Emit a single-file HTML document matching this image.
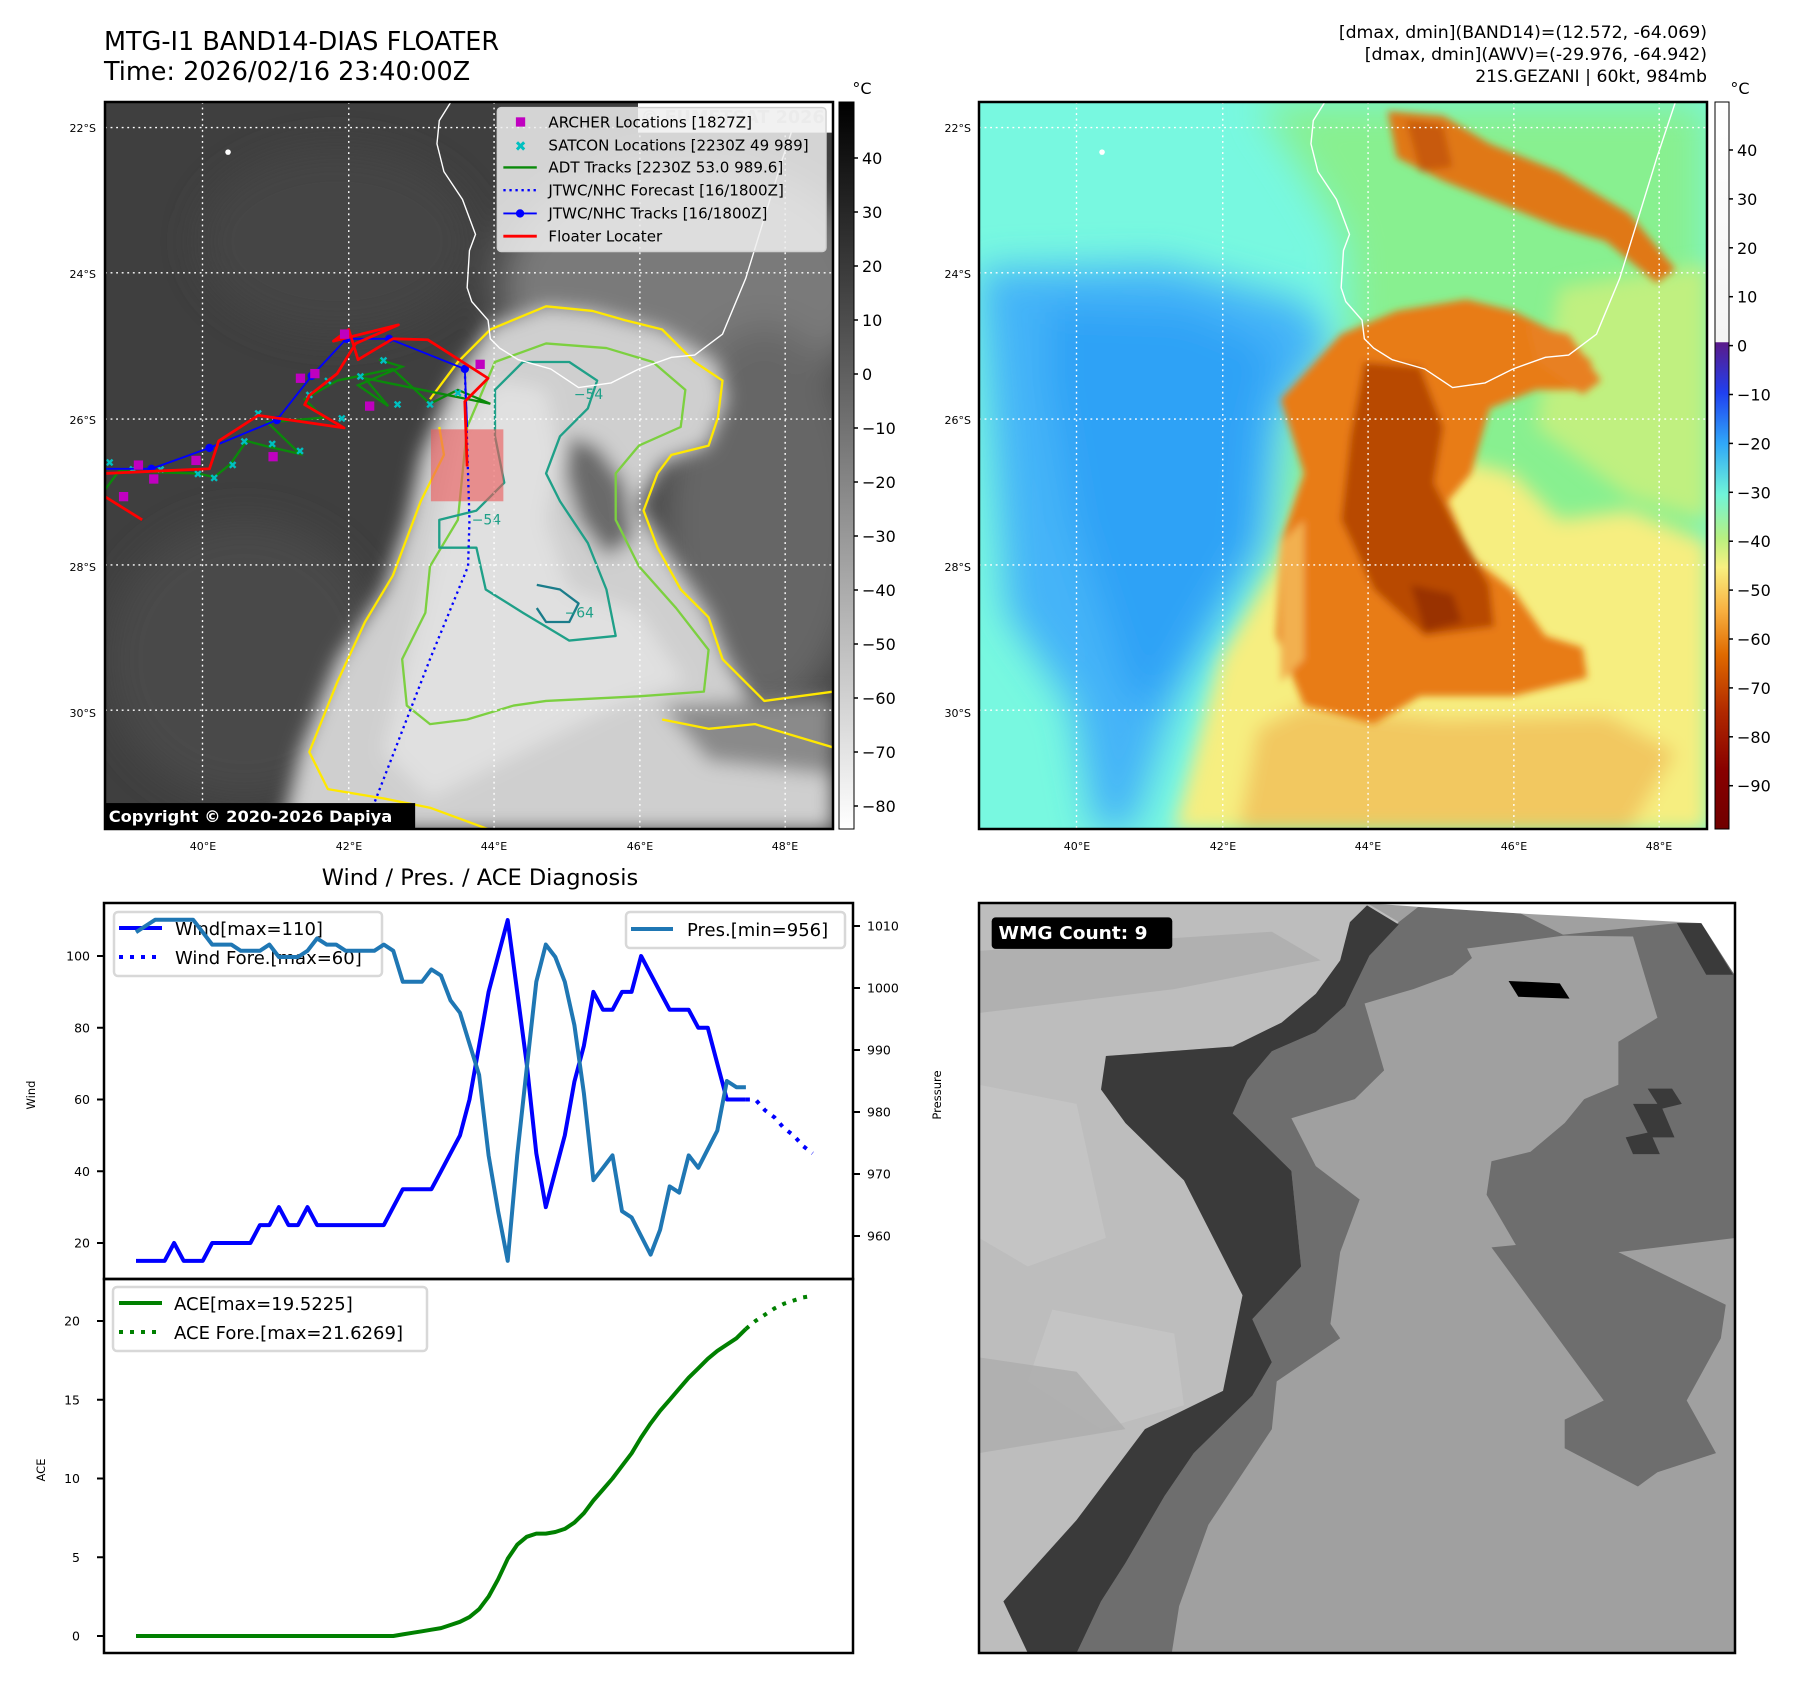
<!DOCTYPE html>
<html><head><meta charset="utf-8">
<style>
html,body{margin:0;padding:0;background:#fff;}
body{width:1797px;height:1690px;overflow:hidden;font-family:"Liberation Sans","DejaVu Sans",sans-serif;}
svg text{font-family:"DejaVu Sans","Liberation Sans",sans-serif;}
</style></head>
<body>
<svg id="page" width="1797" height="1690" viewBox="0 0 1797 1690" xmlns="http://www.w3.org/2000/svg">
<defs>
  <filter id="b8" x="-10%" y="-10%" width="120%" height="120%"><feGaussianBlur stdDeviation="8"/></filter>
  <filter id="b20" x="-20%" y="-20%" width="140%" height="140%"><feGaussianBlur stdDeviation="20"/></filter>
  <filter id="b40" x="-30%" y="-30%" width="160%" height="160%"><feGaussianBlur stdDeviation="40"/></filter>
  <linearGradient id="cbGray" x1="0" y1="0" x2="0" y2="1">
    <stop offset="0" stop-color="#000"/><stop offset="1" stop-color="#fff"/>
  </linearGradient>
  <linearGradient id="cbJet" x1="0" y1="0" x2="0" y2="1">
    <stop offset="0" stop-color="#ffffff"/>
    <stop offset="0.33" stop-color="#f4f4f4"/>
    <stop offset="0.331" stop-color="#5a1a8a"/>
    <stop offset="0.40" stop-color="#2040f0"/>
    <stop offset="0.47" stop-color="#30a8f8"/>
    <stop offset="0.54" stop-color="#70f4d8"/>
    <stop offset="0.60" stop-color="#b8f080"/>
    <stop offset="0.64" stop-color="#f8f080"/>
    <stop offset="0.70" stop-color="#f8b040"/>
    <stop offset="0.76" stop-color="#e06a00"/>
    <stop offset="0.84" stop-color="#b02800"/>
    <stop offset="0.92" stop-color="#880000"/>
    <stop offset="1" stop-color="#700000"/>
  </linearGradient>
  <clipPath id="clipMap"><rect x="0" y="0" width="1568" height="1568"/></clipPath>
  <clipPath id="clipWmg"><rect x="0" y="0" width="1551" height="1568"/></clipPath>
</defs>

<!-- Titles -->
<text x="104" y="50" font-size="25.5" fill="#000">MTG-I1 BAND14-DIAS FLOATER</text>
<text x="104" y="80" font-size="25.5" fill="#000">Time: 2026/02/16 23:40:00Z</text>
<g font-size="17.3" text-anchor="end" fill="#000">
  <text x="1707" y="38">[dmax, dmin](BAND14)=(12.572, -64.069)</text>
  <text x="1707" y="60">[dmax, dmin](AWV)=(-29.976, -64.942)</text>
  <text x="1707" y="82">21S.GEZANI | 60kt, 984mb</text>
</g>
<text x="862" y="94" font-size="16" text-anchor="middle">°C</text>
<text x="1740" y="94" font-size="16" text-anchor="middle">°C</text>

<!-- LEFT MAP -->
<svg x="105" y="102" width="728" height="728" viewBox="0 0 1568 1568" preserveAspectRatio="none">
  <g clip-path="url(#clipMap)">
  <rect width="1568" height="1568" fill="#3f3f3f"/>
  <g filter="url(#b40)">
    <ellipse cx="1250" cy="400" rx="400" ry="280" fill="#7a7a7a"/>
    <ellipse cx="1420" cy="900" rx="220" ry="420" fill="#666"/>
    <ellipse cx="300" cy="1200" rx="300" ry="300" fill="#4a4a4a"/>
    <ellipse cx="500" cy="300" rx="300" ry="200" fill="#454545"/>
  </g>
  <g filter="url(#b20)">
    <polygon fill="#cfcfcf" points="830,480 950,440 1050,450 1200,490 1320,560 1340,640 1300,740 1200,780 1150,870 1200,950 1300,1100 1340,1200 1400,1300 1568,1280 1568,1568 380,1568 420,1400 500,1200 600,1050 650,900 680,760 750,600"/>
    <polygon fill="#e0e0e0" points="760,700 850,600 950,620 980,760 950,900 1000,1050 1150,1100 1250,1250 1100,1300 900,1400 700,1500 600,1400 650,1200 700,1000"/>
    <polygon fill="#6a6a6a" points="1000,720 1060,740 1120,820 1140,940 1080,980 1020,900 990,800"/>
    <polygon fill="#8a8a8a" points="1200,1300 1568,1280 1568,1450 1300,1420"/>
  </g>
  <g fill="none" stroke-width="5" stroke-linejoin="round">
    <path stroke="#ffe800" d="M700,640 L760,560 L830,490 L950,440 L1050,450 L1120,470 L1200,490 L1270,560 L1330,600 L1320,680 L1300,740 L1220,760 L1190,800 L1160,880 L1190,960 L1240,1050 L1300,1110 L1330,1200 L1420,1290 L1568,1270 M1568,1390 L1400,1340 L1300,1350 L1200,1330 M830,1568 L700,1520 L600,1500 L480,1480 L440,1400 L500,1250 L560,1120 L620,1020 L650,940 L680,860 L730,760 L720,700"/>
    <path stroke="#7cd040" d="M780,700 L840,560 L950,520 L1080,530 L1180,560 L1250,620 L1240,700 L1150,740 L1100,800 L1100,900 L1150,1000 L1230,1090 L1300,1180 L1290,1270 L1150,1280 L950,1290 L880,1300 L780,1330 L700,1340 L650,1300 L640,1200 L690,1100 L700,1000 L760,900 L770,800 Z"/>
    <path stroke="#1fa088" d="M840,620 L900,560 L1000,560 L1060,600 L1040,660 L980,720 L950,800 L980,860 L1040,950 L1080,1050 L1100,1150 L1000,1160 L900,1100 L820,1050 L800,960 L720,960 L720,900 L800,880 L860,820 L840,720 Z"/>
    <path stroke="#1a7c8a" d="M930,1040 L980,1050 L1020,1080 L1000,1120 L950,1120 L930,1090"/>
  </g>
  <g fill="#1fa088" font-size="30">
    <text x="1010" y="640">−54</text><text x="790" y="910">−54</text><text x="990" y="1110">−64</text>
  </g>
  <g stroke="#fff" stroke-width="3" stroke-dasharray="4,8">
    <line x1="210" y1="0" x2="210" y2="1568"/><line x1="525" y1="0" x2="525" y2="1568"/><line x1="838" y1="0" x2="838" y2="1568"/><line x1="1152" y1="0" x2="1152" y2="1568"/><line x1="1465" y1="0" x2="1465" y2="1568"/>
    <line x1="0" y1="55" x2="1568" y2="55"/><line x1="0" y1="368" x2="1568" y2="368"/><line x1="0" y1="683" x2="1568" y2="683"/><line x1="0" y1="997" x2="1568" y2="997"/><line x1="0" y1="1310" x2="1568" y2="1310"/>
  </g>
  <polyline fill="none" stroke="#fff" stroke-width="3" points="745,0 720,40 715,90 730,150 770,210 798,285 785,320 780,400 790,430 825,470 830,510 850,530 890,555 960,575 1020,615 1090,605 1150,575 1220,550 1270,545 1330,500 1380,380 1420,250 1460,120 1500,0"/>
  <circle cx="265" cy="108" r="6" fill="#fff"/>
  <rect x="702" y="705" width="156" height="155" fill="rgba(235,90,90,0.62)"/>
  <polyline fill="none" stroke="#0a8a0a" stroke-width="5" points="0,835 30,795 200,800 235,808 270,780 305,730 350,742 420,758 350,690 470,680 430,640 500,600 620,575 700,650 760,620 830,650 560,595 610,655 545,610 640,570 590,555"/>
  <g fill="#00c0c0" font-size="24" text-anchor="middle">
    <text x="10" y="785">✖</text><text x="60" y="800">✖</text><text x="120" y="800">✖</text><text x="200" y="810">✖</text><text x="235" y="818">✖</text><text x="275" y="790">✖</text><text x="300" y="740">✖</text><text x="330" y="680">✖</text><text x="360" y="745">✖</text><text x="420" y="760">✖</text><text x="440" y="640">✖</text><text x="480" y="610">✖</text><text x="510" y="690">✖</text><text x="550" y="600">✖</text><text x="600" y="565">✖</text><text x="630" y="660">✖</text><text x="700" y="660">✖</text><text x="760" y="635">✖</text>
  </g>
  <polyline fill="none" stroke="#0000ff" stroke-width="5" stroke-dasharray="5,8" points="775,578 785,900 782,1000 700,1200 580,1510"/>
  <polyline fill="none" stroke="#0000ff" stroke-width="4" points="0,790 100,790 225,745 370,685 445,590 520,510 612,510 775,575 780,700"/>
  <g fill="#0000ff"><circle cx="100" cy="790" r="9"/><circle cx="225" cy="745" r="9"/><circle cx="370" cy="685" r="9"/><circle cx="445" cy="590" r="9"/><circle cx="520" cy="510" r="9"/><circle cx="612" cy="510" r="9"/><circle cx="775" cy="575" r="9"/></g>
  <polyline fill="none" stroke="#ff0000" stroke-width="6" stroke-linejoin="round" points="0,800 225,790 245,730 330,675 515,702 430,652 440,632 500,585 540,520 632,480 492,515 525,490 545,555 620,510 695,512 825,595 775,645 780,785"/>
  <polyline fill="none" stroke="#ff0000" stroke-width="6" points="0,850 80,900"/>
  <g fill="#c000c0">
    <rect x="30" y="840" width="20" height="20"/><rect x="62" y="772" width="20" height="20"/><rect x="95" y="802" width="20" height="20"/><rect x="186" y="762" width="20" height="20"/><rect x="352" y="754" width="20" height="20"/><rect x="411" y="585" width="20" height="20"/><rect x="442" y="575" width="20" height="20"/><rect x="560" y="645" width="20" height="20"/><rect x="506" y="490" width="20" height="20"/><rect x="798" y="555" width="20" height="20"/>
  </g>
  <rect x="1148" y="0" width="420" height="66" fill="#fff"/>
  <text x="1550" y="45" font-size="38" font-weight="bold" fill="#d6d6d6" text-anchor="end">© EUMETSAT 2026</text>
  <g>
    <rect x="845" y="12" width="708" height="310" rx="8" fill="rgba(238,238,238,0.85)" stroke="#d0d0d0" stroke-width="3"/>
    <rect x="885" y="33" width="20" height="20" fill="#c000c0"/>
    <text x="895" y="105" font-size="30" fill="#00c0c0" text-anchor="middle">✖</text>
    <line x1="858" y1="141" x2="930" y2="141" stroke="#0a8a0a" stroke-width="5"/>
    <line x1="858" y1="190" x2="930" y2="190" stroke="#0000ff" stroke-width="5" stroke-dasharray="5,8"/>
    <line x1="858" y1="240" x2="930" y2="240" stroke="#0000ff" stroke-width="4"/><circle cx="894" cy="240" r="9" fill="#0000ff"/>
    <line x1="858" y1="289" x2="930" y2="289" stroke="#ff0000" stroke-width="6"/>
    <g font-size="32.5" fill="#000">
      <text x="955" y="55">ARCHER Locations [1827Z]</text>
      <text x="955" y="104">SATCON Locations [2230Z 49 989]</text>
      <text x="955" y="152">ADT Tracks [2230Z 53.0 989.6]</text>
      <text x="955" y="201">JTWC/NHC Forecast [16/1800Z]</text>
      <text x="955" y="251">JTWC/NHC Tracks [16/1800Z]</text>
      <text x="955" y="300">Floater Locater</text>
    </g>
  </g>
  <rect x="0" y="1510" width="668" height="58" fill="#000"/>
  <text x="8" y="1551" font-size="35" font-weight="bold" fill="#fff">Copyright © 2020-2026 Dapiya</text>
  </g>
</svg>
<rect x="105" y="102" width="728" height="727" fill="none" stroke="#000" stroke-width="2.5"/>

<!-- RIGHT MAP -->
<svg x="979" y="102" width="728" height="728" viewBox="0 0 1568 1568" preserveAspectRatio="none">
  <g clip-path="url(#clipMap)">
  <rect width="1568" height="1568" fill="#78f8e0"/>
  <g filter="url(#b40)">
    <polygon fill="#44b4f8" points="0,360 400,350 700,430 760,520 650,680 620,950 530,1100 420,1300 330,1568 250,1568 200,1300 60,1100"/>
    <polygon fill="#2ea2f6" points="150,440 450,450 640,530 600,700 580,950 480,1120 380,1300 320,1280 280,1150 200,900 150,600"/>
    <polygon fill="#88f090" points="600,0 1568,0 1568,1568 500,1568 560,1250 650,950 680,650 800,500 790,300 700,150"/>
  </g>
  <g filter="url(#b20)">
    <polygon fill="#f6ee80" points="420,1568 1568,1568 1568,950 1400,880 1250,900 1150,800 760,700 640,1000 520,1200"/>
    <polygon fill="#f2c860" points="560,1568 1400,1568 1500,1400 1350,1320 1000,1330 700,1300 600,1350"/>
    <polygon fill="#c0f080" points="1250,400 1568,350 1568,900 1400,850 1200,700"/>
  </g>
  <g filter="url(#b8)">
    <polygon fill="#e87c18" points="650,640 780,500 900,450 1050,425 1150,450 1250,500 1320,560 1300,620 1200,620 1100,660 1060,800 1010,860 1060,980 1150,1050 1220,1150 1300,1175 1310,1240 1150,1280 950,1280 850,1340 700,1300 640,1150 650,950 700,800"/>
    <polygon fill="#b84a00" points="830,560 950,570 1000,700 980,820 1020,900 1100,1040 1110,1130 960,1150 850,1050 780,900 800,720"/>
    <polygon fill="#993000" points="930,1040 1020,1060 1040,1120 960,1140"/>
    <polygon fill="#e07818" points="880,20 1000,30 1100,90 1250,150 1400,240 1500,360 1460,390 1350,300 1250,270 1100,210 1000,170 900,120"/>
    <polygon fill="#c85a08" points="920,40 1000,50 1020,140 950,150"/>
    <polygon fill="#e88020" points="1180,480 1270,500 1340,600 1300,630 1200,560"/>
    <polygon fill="#f2b050" points="650,950 700,900 700,1200 650,1250"/>
  </g>
  <g stroke="#fff" stroke-width="3" stroke-dasharray="4,8">
    <line x1="210" y1="0" x2="210" y2="1568"/><line x1="525" y1="0" x2="525" y2="1568"/><line x1="838" y1="0" x2="838" y2="1568"/><line x1="1152" y1="0" x2="1152" y2="1568"/><line x1="1465" y1="0" x2="1465" y2="1568"/>
    <line x1="0" y1="55" x2="1568" y2="55"/><line x1="0" y1="368" x2="1568" y2="368"/><line x1="0" y1="683" x2="1568" y2="683"/><line x1="0" y1="997" x2="1568" y2="997"/><line x1="0" y1="1310" x2="1568" y2="1310"/>
  </g>
  <polyline fill="none" stroke="#fff" stroke-width="3" points="745,0 720,40 715,90 730,150 770,210 798,285 785,320 780,400 790,430 825,470 830,510 850,530 890,555 960,575 1020,615 1090,605 1150,575 1220,550 1270,545 1330,500 1380,380 1420,250 1460,120 1500,0"/>
  <circle cx="265" cy="108" r="6" fill="#fff"/>
  </g>
</svg>
<rect x="979" y="102" width="728" height="727" fill="none" stroke="#000" stroke-width="2.5"/>

<g font-size="11" text-anchor="end">
  <text x="96" y="132">22°S</text><text x="96" y="278">24°S</text><text x="96" y="424">26°S</text><text x="96" y="571">28°S</text><text x="96" y="717">30°S</text>
</g>
<g font-size="11" text-anchor="end">
  <text x="971" y="132">22°S</text><text x="971" y="278">24°S</text><text x="971" y="424">26°S</text><text x="971" y="571">28°S</text><text x="971" y="717">30°S</text>
</g>
<g font-size="11" text-anchor="middle">
  <text x="203" y="850">40°E</text><text x="349" y="850">42°E</text><text x="494" y="850">44°E</text><text x="640" y="850">46°E</text><text x="785" y="850">48°E</text>
</g>
<g font-size="11" text-anchor="middle">
  <text x="1077" y="850">40°E</text><text x="1223" y="850">42°E</text><text x="1368" y="850">44°E</text><text x="1514" y="850">46°E</text><text x="1659" y="850">48°E</text>
</g>

<rect x="839" y="102" width="15" height="727" fill="url(#cbGray)" stroke="#000" stroke-width="1"/>
<g id="cbLeftTicks" font-size="16"></g>
<rect x="1715" y="102" width="14" height="727" fill="url(#cbJet)" stroke="#000" stroke-width="1"/>
<g id="cbRightTicks" font-size="16"></g>

<text x="480" y="885" font-size="22.5" text-anchor="middle">Wind / Pres. / ACE Diagnosis</text>

<!-- WMG panel -->
<svg x="979" y="903" width="757" height="750" viewBox="0 0 1551 1568" preserveAspectRatio="none">
  <g clip-path="url(#clipWmg)">
  <rect width="1551" height="1568" fill="#a0a0a0"/>
  <polygon fill="#bdbdbd" points="0,0 795,0 860,40 760,140 690,190 620,250 520,300 260,320 300,460 420,580 540,820 500,1020 340,1100 200,1290 50,1460 100,1568 0,1568"/>
  <g fill="#c6c6c6" opacity="0.8"><polygon points="0,380 200,420 260,700 100,760 0,700"/><polygon points="150,850 400,900 420,1050 250,1100 100,1000"/></g>
  <g fill="#adadad" opacity="0.8"><polygon points="0,100 600,60 700,120 400,180 0,230"/><polygon points="0,950 200,980 300,1100 0,1150"/></g>
  <polygon fill="#6e6e6e" points="860,40 900,8 1110,22 1200,68 1000,95 1010,115 970,150 890,180 790,210 830,350 770,410 640,450 690,550 780,620 740,730 720,880 740,910 610,1000 600,1100 470,1300 410,1470 395,1568 200,1568 250,1460 300,1380 380,1240 440,1150 560,1030 600,960 560,870 660,760 640,560 520,440 550,370 600,310 690,270 750,215 800,110"/>
  <polygon fill="#6e6e6e" points="1180,68 1430,42 1480,42 1551,150 1551,700 1310,730 1390,770 1530,840 1520,910 1450,1040 1510,1150 1390,1190 1350,1220 1200,1140 1200,1080 1280,1040 1050,720 1100,715 1040,610 1050,540 1130,520 1200,460 1240,410 1310,380 1310,290 1390,240 1340,70"/>
  <polygon fill="#3a3a3a" points="795,5 860,45 800,110 750,215 690,270 600,310 550,370 520,440 640,560 660,760 560,870 600,960 560,1030 440,1150 380,1240 300,1380 250,1460 200,1568 100,1568 50,1460 200,1290 340,1100 500,1020 540,820 420,580 300,460 250,390 260,320 520,300 620,250 690,190 740,120 760,40"/>
  <polygon fill="#3a3a3a" points="1430,42 1480,42 1545,150 1490,150"/>
  <polygon fill="#3a3a3a" points="1370,388 1420,388 1440,420 1400,430 1425,490 1380,490 1395,525 1340,525 1325,490 1370,480 1340,420 1390,420"/>
  <polygon fill="#000" points="1085,163 1190,168 1210,200 1105,196"/>
  <polygon fill="#fff" points="790,0 1551,0 1551,155 1480,42 1110,22 900,8"/>
  <rect x="26" y="30" width="370" height="66" rx="8" fill="#000"/>
  <text x="40" y="75" font-size="38" font-weight="bold" fill="#fff">WMG Count: 9</text>
  </g>
</svg>
<rect x="979" y="903" width="756" height="750" fill="none" stroke="#000" stroke-width="2.5"/>

<g id="chart"></g>
</svg>

<script>
// ---------- chart data ----------
const windValues = [15,15,15,15,20,15,15,15,20,20,20,20,20,25,25,30,25,25,30,25,25,25,25,25,25,25,25,30,35,35,35,35,40,45,50,60,75,90,100,110,90,70,45,30,40,50,65,75,90,85,85,90,90,100,95,90,85,85,85,80,80,70,60,60,60];
const windForecast = [60,60,57,55,52,50,47,45];
const presValues = [1009,1010,1011,1011,1011,1011,1011,1009,1007,1007,1007,1006,1006,1006,1007,1005,1005,1005,1006,1008,1007,1007,1006,1006,1006,1006,1007,1006,1001,1001,1001,1003,1002,998,996,991,986,973,964,956,973,987,1001,1007,1005,1001,994,983,969,971,973,964,963,960,957,961,968,967,973,971,974,977,985,984,984];
const aceValues = [0,0,0,0,0,0,0,0,0,0,0,0,0,0,0,0,0,0,0,0,0,0,0,0,0,0,0,0,0.1,0.2,0.3,0.4,0.5,0.7,0.9,1.2,1.7,2.5,3.6,4.9,5.8,6.3,6.5,6.5,6.6,6.8,7.2,7.8,8.6,9.3,10.0,10.8,11.6,12.6,13.5,14.3,15.0,15.7,16.4,17.0,17.6,18.1,18.5,18.9,19.5];
const aceForecast = [19.5,20.0,20.4,20.8,21.1,21.3,21.5,21.6];
const windTicks = [20,40,60,80,100];
const presTicks = [960,970,980,990,1000,1010];
const aceTicks = [0,5,10,15,20];
const irTicks = [40,30,20,10,0,-10,-20,-30,-40,-50,-60,-70,-80];
const awvTicks = [40,30,20,10,0,-10,-20,-30,-40,-50,-60,-70,-80,-90];

const NS = 'http://www.w3.org/2000/svg';
function mk(tag, attrs, parent){const e=document.createElementNS(NS,tag);for(const k in attrs)e.setAttribute(k,attrs[k]);parent.appendChild(e);return e;}

const X = i => 136 + i*9.53;
const WY = v => 1243 - (v-20)*3.5875;
const PY = p => 1236 - (p-960)*6.2;
const AY = a => 1636 - a*15.75;
const IRY = t => 158 + (40-t)*5.4;
const AWVY = t => 150 + (40-t)*4.89;

const chart = document.getElementById('chart');

const f1 = mk('rect',{x:104,y:903,width:749,height:376,fill:'none',stroke:'#000','stroke-width':2.5},chart);


const f2 = mk('rect',{x:104,y:1279,width:749,height:374,fill:'none',stroke:'#000','stroke-width':2.5},chart);



function pts(arr, off, yf){return arr.map((v,i)=>X(i+off).toFixed(1)+','+yf(v).toFixed(1)).join(' ');}

windTicks.forEach(t=>{
  const y=WY(t);
  const l=mk('line',{x1:97,y1:y,x2:104,y2:y,stroke:'#000','stroke-width':2},chart);
  
  
  const tx=mk('text',{x:90,y:y+4.5,'font-size':12.5,'text-anchor':'end'},chart);
  
  
  tx.textContent=t;
});
presTicks.forEach(t=>{
  const y=PY(t);
  const l=mk('line',{x1:853,y1:y,x2:860,y2:y,stroke:'#000','stroke-width':2},chart);
  
  
  const tx=mk('text',{x:867,y:y+4.5,'font-size':12.5},chart);
  
  
  tx.textContent=t;
});
aceTicks.forEach(t=>{
  const y=AY(t);
  const l=mk('line',{x1:97,y1:y,x2:104,y2:y,stroke:'#000','stroke-width':2},chart);
  
  
  const tx=mk('text',{x:80,y:y+4.5,'font-size':12.5,'text-anchor':'end'},chart);
  
  
  tx.textContent=t;
});

const wt=mk('text',{x:35,y:1095,'font-size':11.5,'text-anchor':'middle',transform:'rotate(-90 35 1095)'},chart);


wt.textContent='Wind';
const pt=mk('text',{x:941,y:1095,'font-size':11.5,'text-anchor':'middle',transform:'rotate(-90 941 1095)'},chart);


pt.textContent='Pressure';
const at=mk('text',{x:45,y:1470,'font-size':11.5,'text-anchor':'middle',transform:'rotate(-90 45 1470)'},chart);


at.textContent='ACE';

const wl=mk('polyline',{points:pts(windValues,0,WY),fill:'none',stroke:'#0000ff','stroke-width':4,'stroke-linejoin':'round'},chart);


const wf=mk('polyline',{points:pts(windForecast,windValues.length-1,WY),fill:'none',stroke:'#0000ff','stroke-width':4,'stroke-dasharray':'4,7'},chart);



const wlg=mk('g',{},chart);


mk('rect',{x:114,y:912,width:268,height:64,rx:4,fill:'rgba(255,255,255,0.85)',stroke:'#d8d8d8','stroke-width':2.5},wlg);
mk('line',{x1:119,y1:928,x2:162,y2:928,stroke:'#0000ff','stroke-width':4},wlg);
mk('line',{x1:119,y1:957,x2:162,y2:957,stroke:'#0000ff','stroke-width':4,'stroke-dasharray':'4,7'},wlg);
const wlt1=mk('text',{x:175,y:935,'font-size':18},wlg); wlt1.textContent='Wind[max=110]';
const wlt2=mk('text',{x:175,y:964,'font-size':18},wlg); wlt2.textContent='Wind Fore.[max=60]';

const pl=mk('polyline',{points:pts(presValues,0,PY),fill:'none',stroke:'#1f77b4','stroke-width':4,'stroke-linejoin':'round'},chart);



const plg=mk('g',{},chart);


mk('rect',{x:626,y:912,width:219,height:36,rx:4,fill:'rgba(255,255,255,0.85)',stroke:'#d8d8d8','stroke-width':2.5},plg);
mk('line',{x1:631,y1:929,x2:673,y2:929,stroke:'#1f77b4','stroke-width':4},plg);
const plt=mk('text',{x:687,y:936,'font-size':18},plg); plt.textContent='Pres.[min=956]';

const al=mk('polyline',{points:pts(aceValues,0,AY),fill:'none',stroke:'#008000','stroke-width':4,'stroke-linejoin':'round'},chart);


const af=mk('polyline',{points:pts(aceForecast,aceValues.length-1,AY),fill:'none',stroke:'#008000','stroke-width':4,'stroke-dasharray':'4,7'},chart);



const alg=mk('g',{},chart);


mk('rect',{x:113,y:1287,width:314,height:64,rx:4,fill:'rgba(255,255,255,0.85)',stroke:'#d8d8d8','stroke-width':2.5},alg);
mk('line',{x1:119,y1:1303,x2:162,y2:1303,stroke:'#008000','stroke-width':4},alg);
mk('line',{x1:119,y1:1332,x2:162,y2:1332,stroke:'#008000','stroke-width':4,'stroke-dasharray':'4,7'},alg);
const alt1=mk('text',{x:174,y:1310,'font-size':18},alg); alt1.textContent='ACE[max=19.5225]';
const alt2=mk('text',{x:174,y:1339,'font-size':18},alg); alt2.textContent='ACE Fore.[max=21.6269]';

const cbL=document.getElementById('cbLeftTicks');
irTicks.forEach(t=>{
  const y=IRY(t);
  const l=mk('line',{x1:854,y1:y,x2:858,y2:y,stroke:'#000','stroke-width':1.5},cbL);
  
  
  const tx=mk('text',{x:862,y:y+6},cbL);
  
  
  tx.textContent=String(t).replace('-','\u2212');
});
const cbR=document.getElementById('cbRightTicks');
awvTicks.forEach(t=>{
  const y=AWVY(t);
  const l=mk('line',{x1:1729,y1:y,x2:1733,y2:y,stroke:'#000','stroke-width':1.5},cbR);
  
  
  const tx=mk('text',{x:1737,y:y+6},cbR);
  
  
  tx.textContent=String(t).replace('-','\u2212');
});
</script>
</body></html>
